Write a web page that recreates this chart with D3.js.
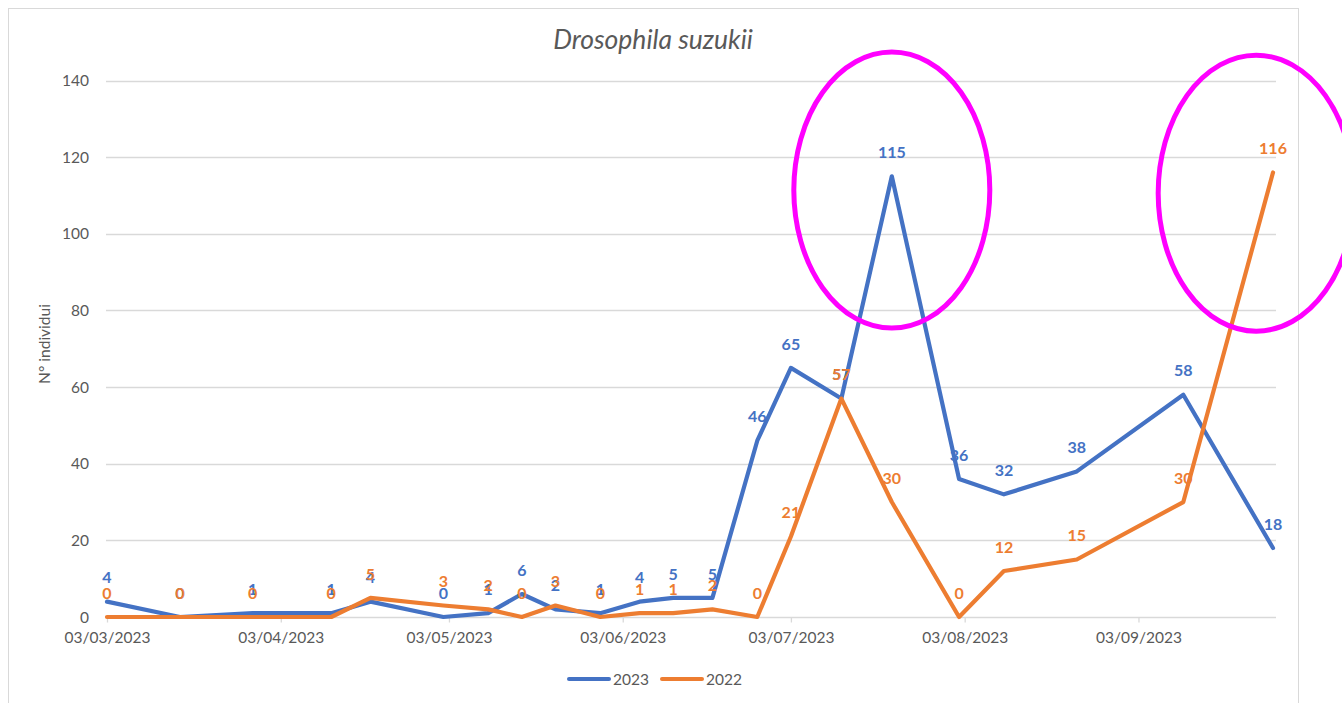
<!DOCTYPE html>
<html>
<head>
<meta charset="utf-8">
<script src="https://cdn.jsdelivr.net/npm/d3@7"></script>
<style>
  html, body { margin: 0; padding: 0; background: #fff; }
  svg { display: block; font-family: Lato, "Open Sans", sans-serif; }
</style>
</head>
<body>
<svg id="chart" width="1342" height="703"></svg>
<script>
// sampling dates (both years plotted on the same day of year)
const dates = ["2023-03-03", "2023-03-16", "2023-03-29", "2023-04-12", "2023-04-19", "2023-05-02",
  "2023-05-10", "2023-05-16", "2023-05-22", "2023-05-30", "2023-06-06", "2023-06-12",
  "2023-06-19", "2023-06-27", "2023-07-03", "2023-07-12", "2023-07-21", "2023-08-02",
  "2023-08-10", "2023-08-23", "2023-09-11", "2023-09-27"];
const values2023 = [4, 0, 1, 1, 4, 0, 1, 6, 2, 1, 4, 5, 5, 46, 65, 57, 115, 36, 32, 38, 58, 18];
const values2022 = [0, 0, 0, 0, 5, 3, 2, 0, 3, 0, 1, 1, 2, 0, 21, 57, 30, 0, 12, 15, 30, 116];
const seriesNames = ["2023", "2022"];
const yTicks = [0, 20, 40, 60, 80, 100, 120, 140];
const xTicks = ["2023-03-03", "2023-04-03", "2023-05-03", "2023-06-03", "2023-07-03", "2023-08-03", "2023-09-03"];
// circled peaks (centre in data units)
const highlightDates = ["2023-07-21", "2023-09-24"];
const highlightValues = [111.4, 110.6];

const parse = d3.utcParse("%Y-%m-%d");
const fmt = d3.utcFormat("%d/%m/%Y");
const colors = ["#4472C4", "#ED7D31"];
const textGrey = "#595959";
const gridGrey = "#D9D9D9";

const svg = d3.select("#chart");

// chart frame
svg.append("rect")
    .attr("x", 8.5).attr("y", 8.5)
    .attr("width", 1290).attr("height", 720)
    .attr("fill", "#fff")
    .attr("stroke", gridGrey);

const x = d3.scaleUtc()
    .domain([parse(dates[0]), parse(dates[dates.length - 1])])
    .range([107, 1273]);
const y = d3.scaleLinear().domain([0, 140]).range([617, 80.5]);

// gridlines
svg.append("g").selectAll("line")
    .data(yTicks.filter(d => d > 0))
    .join("line")
    .attr("x1", 106).attr("x2", 1276)
    .attr("y1", d => Math.round(y(d)) + 0.5)
    .attr("y2", d => Math.round(y(d)) + 0.5)
    .attr("stroke", gridGrey).attr("stroke-width", 1.3);

// y axis labels
svg.append("g").selectAll("text")
    .data(yTicks)
    .join("text")
    .attr("x", 89)
    .attr("y", d => y(d))
    .attr("dy", "0.36em")
    .attr("text-anchor", "end")
    .attr("font-size", 15.5)
    .attr("fill", textGrey)
    .text(d => d);

// x axis
const xAxis = d3.axisBottom(x)
    .tickValues(xTicks.map(parse))
    .tickFormat(fmt)
    .tickSize(5)
    .tickPadding(9);
const gx = svg.append("g")
    .attr("transform", `translate(0,${Math.round(y(0)) + 0.5})`)
    .call(xAxis);
gx.select(".domain").attr("d", "M106,0H1276").attr("stroke", gridGrey).attr("stroke-width", 1.3);
gx.selectAll(".tick line").attr("stroke", gridGrey).attr("stroke-width", 1.3);
gx.selectAll(".tick text")
    .attr("fill", textGrey)
    .attr("font-size", 15.5)
    .attr("font-family", "Lato, sans-serif");

// title
svg.append("text")
    .attr("x", 653).attr("y", 49)
    .attr("text-anchor", "middle")
    .attr("font-size", 26.5)
    .attr("font-style", "italic")
    .attr("fill", textGrey)
    .text("Drosophila suzukii");

// y axis title
svg.append("text")
    .attr("transform", "translate(50,344) rotate(-90)")
    .attr("text-anchor", "middle")
    .attr("font-size", 15.5)
    .attr("fill", textGrey)
    .text("N° individui");

// series
const series = [values2023, values2022].map((vals, i) => ({
  name: seriesNames[i],
  color: colors[i],
  points: vals.map((v, j) => ({date: parse(dates[j]), value: v}))
}));

const line = d3.line().x(d => x(d.date)).y(d => y(d.value));

series.forEach(s => {
  svg.append("path")
      .datum(s.points)
      .attr("d", line)
      .attr("fill", "none")
      .attr("stroke", s.color)
      .attr("stroke-width", 4.2)
      .attr("stroke-linejoin", "round")
      .attr("stroke-linecap", "round");
});

series.forEach(s => {
  svg.append("g").selectAll("text")
      .data(s.points)
      .join("text")
      .attr("x", d => x(d.date))
      .attr("y", d => y(d.value) - 24)
      .attr("dy", "0.36em")
      .attr("text-anchor", "middle")
      .attr("font-size", 16)
      .attr("font-weight", "bold")
      .attr("fill", s.color)
      .text(d => d.value);
});

// highlight ellipses
svg.append("g").selectAll("ellipse")
    .data(highlightDates.map((d, i) => ({date: parse(d), value: highlightValues[i]})))
    .join("ellipse")
    .attr("cx", d => x(d.date))
    .attr("cy", d => y(d.value))
    .attr("rx", 98)
    .attr("ry", 138)
    .attr("fill", "none")
    .attr("stroke", "#FF00FF")
    .attr("stroke-width", 5);

// legend
const legend = svg.append("g").attr("transform", "translate(569,679)");
const item = legend.selectAll("g")
    .data(series)
    .join("g")
    .attr("transform", (d, i) => `translate(${i * 93},0)`);
item.append("line")
    .attr("x1", 0).attr("x2", 40)
    .attr("stroke", d => d.color)
    .attr("stroke-width", 4)
    .attr("stroke-linecap", "round");
item.append("text")
    .attr("x", 44)
    .attr("dy", "0.36em")
    .attr("font-size", 15.5)
    .attr("fill", textGrey)
    .text(d => d.name);
</script>
</body>
</html>
